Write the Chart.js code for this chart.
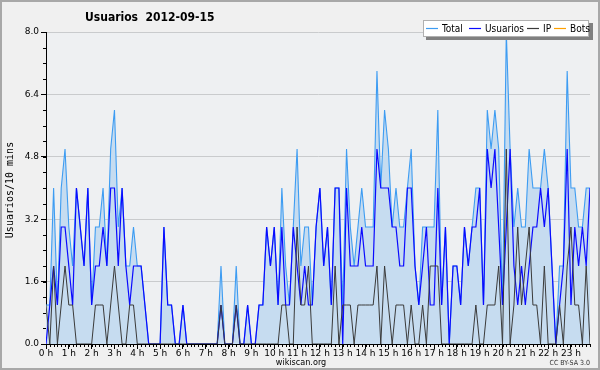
<!DOCTYPE html>
<html>
<head>
<meta charset="utf-8">
<script src="https://cdn.jsdelivr.net/npm/chart.js@4.4.0/dist/chart.umd.min.js"></script>
<style>
html, body { margin: 0; padding: 0; background: #f0f0f0; }
canvas { display: block; }
</style>
</head>
<body>
<canvas id="myChart" width="600" height="370"></canvas>
<script>
// one value per 10 minutes, 2012-09-15 00:00 .. 23:50
var hourLabels = ['0 h','1 h','2 h','3 h','4 h','5 h','6 h','7 h','8 h','9 h','10 h','11 h',
                  '12 h','13 h','14 h','15 h','16 h','17 h','18 h','19 h','20 h','21 h','22 h','23 h'];

var total = [
    1,1,4,1,4,5,  3,2,4,3,2,4,  1,3,3,4,2,5,  6,3,4,2,2,3,
    2,2,1,0,0,0,  0,3,1,1,0,0,  1,0,0,0,0,0,  0,0,0,0,2,0,
    0,0,2,0,0,1,  0,0,1,1,3,2,  3,1,4,2,1,3,  5,2,3,3,1,3,
    4,2,3,1,4,4,  1,5,3,2,3,4,  3,3,3,7,4,6,  5,3,4,3,3,4,
    5,2,1,3,3,3,  3,6,1,3,0,2,  2,1,3,2,3,4,  4,1,6,5,6,5,
    1,8,5,3,4,3,  3,5,4,4,4,5,  4,2,0,2,2,7,  4,4,3,3,4,4
];
var usuarios = [
    0,1,2,1,3,3,  2,1,4,3,2,4,  1,2,2,3,2,4,  4,2,4,2,1,2,
    2,2,1,0,0,0,  0,3,1,1,0,0,  1,0,0,0,0,0,  0,0,0,0,1,0,
    0,0,1,0,0,1,  0,0,1,1,3,2,  3,1,3,1,1,3,  2,1,2,1,1,3,
    4,2,3,1,4,4,  0,4,2,2,2,3,  2,2,2,5,4,4,  4,3,3,2,2,4,
    4,2,1,2,3,1,  1,4,1,3,0,2,  2,1,3,2,3,3,  4,1,5,4,5,3,
    1,3,5,2,1,2,  1,2,3,3,4,3,  4,2,0,1,2,5,  1,3,2,3,2,4
];
var ip = [
    1,0,2,0,1,2,  1,1,0,0,0,0,  0,1,1,1,0,1,  2,1,0,0,1,1,
    0,0,0,0,0,0,  0,0,0,0,0,0,  0,0,0,0,0,0,  0,0,0,0,1,0,
    0,0,1,0,0,0,  0,0,0,0,0,0,  0,0,1,1,0,0,  3,1,1,2,0,0,
    0,0,0,0,2,0,  1,1,1,0,1,1,  1,1,1,2,0,2,  1,0,1,1,1,0,
    1,0,0,1,0,2,  2,2,0,0,0,0,  0,0,0,0,0,1,  0,0,1,1,1,2,
    0,5,0,1,3,1,  2,3,1,1,0,2,  0,0,0,1,0,2,  3,1,1,0,2,0
];
var bots = [
    0,0,0,0,0,0,  0,0,0,0,0,0,  0,0,0,0,0,0,  0,0,0,0,0,0,
    0,0,0,0,0,0,  0,0,0,0,0,0,  0,0,0,0,0,0,  0,0,0,0,0,0,
    0,0,0,0,0,0,  0,0,0,0,0,0,  0,0,0,0,0,0,  0,0,0,0,0,0,
    0,0,0,0,0,0,  0,0,0,0,0,0,  0,0,0,0,0,0,  0,0,0,0,0,0,
    0,0,0,0,0,0,  0,0,0,0,0,0,  0,0,0,0,0,0,  0,0,0,0,0,0,
    0,0,0,0,0,0,  0,0,0,0,0,0,  0,0,0,0,0,0,  0,0,0,0,0,0
];

var seriesNames = ['Total', 'Usuarios', 'IP', 'Bots'];
var seriesColors = ['#3d9cf2', '#0a0aff', '#3a3a3a', '#ffa000'];
var narrow = '"DejaVu Sans Condensed", "Liberation Sans Narrow", "DejaVu Sans"';

function toPoints(arr){
    var pts = [];
    for(var i = 0; i < arr.length; i++){
        pts.push({x: i, y: arr[i]});
    }
    return pts;
}

// background, frame, title, legend, axis title, minor ticks, footer
var decor = {
    id: 'decor',
    beforeDraw: function(chart){
        var ctx = chart.ctx, a = chart.chartArea;
        ctx.save();
        ctx.fillStyle = '#f0f0f0';
        ctx.fillRect(0, 0, chart.width, chart.height);
        ctx.strokeStyle = '#a8a8a8';
        ctx.lineWidth = 2;
        ctx.strokeRect(1, 1, chart.width - 2, chart.height - 2);
        ctx.fillStyle = '#eef0f2';
        ctx.fillRect(a.left, a.top, a.right - a.left, a.bottom - a.top);
        ctx.restore();
    },
    afterDraw: function(chart){
        var ctx = chart.ctx, a = chart.chartArea;
        var xs = chart.scales.x, ys = chart.scales.y;
        ctx.save();
        // minor ticks
        ctx.strokeStyle = '#000';
        ctx.lineWidth = 1;
        ctx.beginPath();
        for(var i = 0; i < total.length; i++){
            var px = Math.round(xs.getPixelForValue(i)) + 0.5;
            ctx.moveTo(px, a.bottom);
            ctx.lineTo(px, a.bottom + 3);
        }
        for(var k = 0; k <= 20; k++){
            var py = Math.round(ys.getPixelForValue(k * 0.4)) + 0.5;
            ctx.moveTo(a.left - 3, py);
            ctx.lineTo(a.left, py);
        }
        ctx.stroke();

        // title
        ctx.fillStyle = '#000';
        ctx.font = 'bold 12px ' + narrow;
        ctx.textBaseline = 'middle';
        ctx.textAlign = 'left';
        ctx.fillText('Usuarios  2012-09-15', 85, 18);

        // y axis title
        ctx.save();
        ctx.translate(10, 190);
        ctx.rotate(-Math.PI / 2);
        ctx.font = '10px "DejaVu Sans Mono"';
        ctx.textAlign = 'center';
        ctx.fillText('Usuarios/10 mins', 0, 0);
        ctx.restore();

        // footer
        ctx.font = '9px ' + narrow;
        ctx.textAlign = 'center';
        ctx.fillText('wikiscan.org', 301, 363);
        ctx.font = '7px ' + narrow;
        ctx.textAlign = 'right';
        ctx.fillStyle = '#333';
        ctx.fillText('CC BY-SA 3.0', 590, 363);

        // legend box
        ctx.fillStyle = '#808080';
        ctx.fillRect(426, 23, 167, 17);
        ctx.fillStyle = '#ffffff';
        ctx.fillRect(423, 20, 166, 17);
        ctx.strokeStyle = '#b0b0b0';
        ctx.lineWidth = 1;
        ctx.strokeRect(423.5, 20.5, 165, 16);
        var lx = [426, 469, 527, 554];
        ctx.font = '10px ' + narrow;
        ctx.textAlign = 'left';
        for(var j = 0; j < seriesNames.length; j++){
            ctx.strokeStyle = seriesColors[j];
            ctx.lineWidth = 1.2;
            ctx.beginPath();
            ctx.moveTo(lx[j], 28.5);
            ctx.lineTo(lx[j] + 12, 28.5);
            ctx.stroke();
            ctx.fillStyle = '#000';
            ctx.fillText(seriesNames[j], lx[j] + 16, 29);
        }
        ctx.restore();
    }
};

var ctx = document.getElementById('myChart').getContext('2d');
var myChart = new Chart(ctx, {
    type: 'line',
    data: {
        datasets: [{
            label: 'Total',
            data: toPoints(total),
            borderColor: seriesColors[0],
            backgroundColor: '#c6dcf0',
            borderWidth: 1.1,
            fill: 'origin',
            order: 3
        }, {
            label: 'Usuarios',
            data: toPoints(usuarios),
            borderColor: seriesColors[1],
            borderWidth: 1.2,
            fill: false,
            order: 2
        }, {
            label: 'IP',
            data: toPoints(ip),
            borderColor: seriesColors[2],
            borderWidth: 1,
            fill: false,
            order: 1
        }, {
            label: 'Bots',
            data: toPoints(bots),
            borderColor: seriesColors[3],
            borderWidth: 1,
            fill: false,
            order: 4
        }]
    },
    options: {
        responsive: false,
        animation: false,
        devicePixelRatio: 1,
        layout: { padding: { left: 0, right: 10, top: 32, bottom: 0 } },
        elements: { point: { radius: 0 }, line: { tension: 0 } },
        plugins: { legend: { display: false }, tooltip: { enabled: false } },
        scales: {
            x: {
                type: 'linear',
                min: 0,
                max: 143,
                afterFit: function(s){ s.height = 26; },
                border: { display: true, color: '#000', width: 1 },
                grid: { drawOnChartArea: false, drawTicks: true, tickLength: 5, tickColor: '#000' },
                ticks: {
                    stepSize: 6,
                    includeBounds: false,
                    autoSkip: false,
                    maxRotation: 0,
                    minRotation: 0,
                    padding: -1,
                    color: '#000',
                    font: { family: 'DejaVu Sans', size: 9 },
                    callback: function(v){ return v % 6 === 0 ? hourLabels[v / 6] : ''; }
                }
            },
            y: {
                min: 0,
                max: 8,
                afterFit: function(s){ s.width = 46; },
                border: { display: true, color: '#000', width: 1 },
                grid: { color: '#c9cbcd', drawTicks: true, tickLength: 5, tickColor: '#000' },
                ticks: {
                    stepSize: 1.6,
                    padding: 2,
                    color: '#000',
                    font: { family: 'DejaVu Sans', size: 9 },
                    callback: function(v){ return v.toFixed(1); }
                }
            }
        }
    },
    plugins: [decor]
});
</script>
</body>
</html>
